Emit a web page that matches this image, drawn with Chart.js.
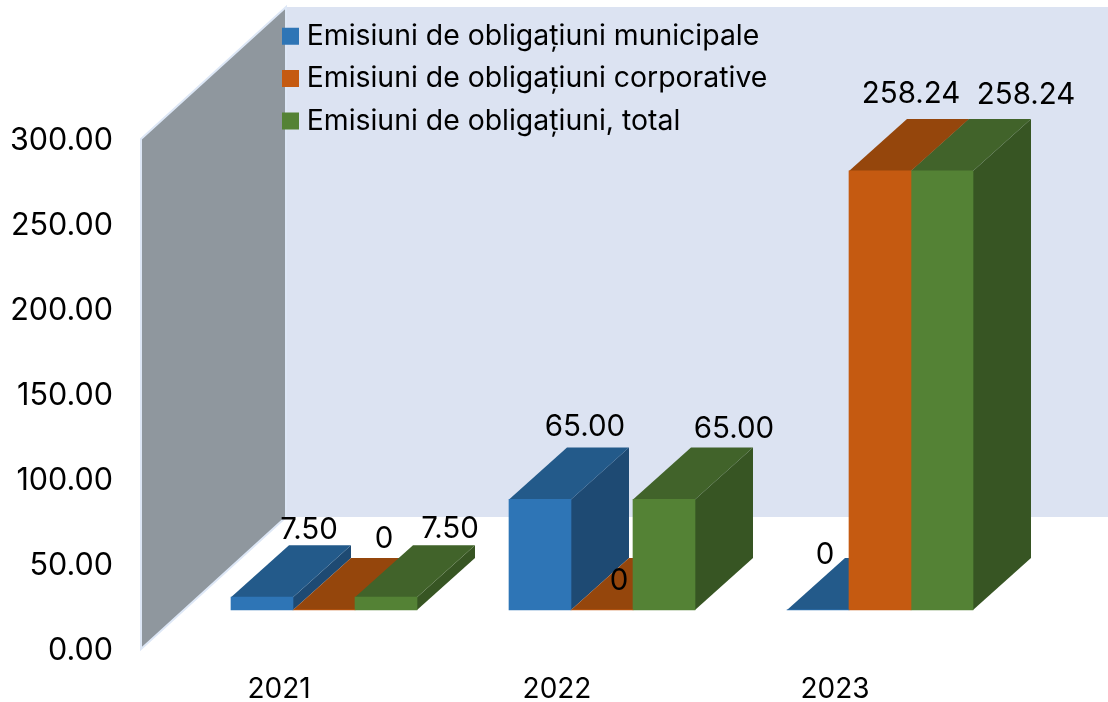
<!DOCTYPE html>
<html>
<head>
<meta charset="utf-8">
<style>html,body{margin:0;padding:0;background:#fff}canvas{display:block}</style>
<script src="https://cdn.jsdelivr.net/npm/chart.js@4/dist/chart.umd.min.js"></script>
</head>
<body>
<canvas id="c" width="1108" height="702"></canvas>
<script>
const categories = ['2021', '2022', '2023'];
const municipal = [7.5, 65, 0];
const corporate = [0, 0, 258.24];
const total = [7.5, 65, 258.24];
const seriesNames = ['Emisiuni de obligațiuni municipale', 'Emisiuni de obligațiuni corporative', 'Emisiuni de obligațiuni, total'];
const axisTicks = [0, 50, 100, 150, 200, 250, 300];

const frontColors = ['#2e75b6', '#c55a11', '#548235'];
const topColors = ['#235a8a', '#95460c', '#41632a'];
const sideColors = ['#1e4a73', '#95460c', '#375523'];

const FONT = 'Inter, sans-serif';
const DEPTH_X = 58, DEPTH_Y = -52;
const WALL_X = 141, WALL_DX = 145, WALL_DY = -132;
// label nudges relative to the centre of each bar's top face [series][category]
const labelNudge = [
  [[18, -41], [16, -46], [-22, -29]],
  [[31, -45], [-12, -3], [2, -51]],
  [[35, -42], [41, -44], [55, -50]]
];
const fmt = v => v === 0 ? '0' : v.toFixed(2);

function poly(ctx, pts, fill) {
  ctx.beginPath();
  pts.forEach((p, i) => i ? ctx.lineTo(p[0], p[1]) : ctx.moveTo(p[0], p[1]));
  ctx.closePath();
  ctx.fillStyle = fill;
  ctx.fill();
}

const scene = {
  id: 'scene',
  beforeDraw(chart) {
    const ctx = chart.ctx, y = chart.scales.y;
    const t = y.getPixelForValue(300), b = y.getPixelForValue(0);
    const lg = chart.legend, w = lg.width, h = lg.height;
    lg.left = 274.5; lg.right = 274.5 + w; lg.top = 8; lg.bottom = 8 + h;
    ctx.save();
    poly(ctx, [[WALL_X + WALL_DX, t + WALL_DY], [chart.width, t + WALL_DY], [chart.width, b + WALL_DY], [WALL_X + WALL_DX, b + WALL_DY]], '#dce3f2');
    poly(ctx, [[WALL_X, t], [WALL_X + WALL_DX, t + WALL_DY], [WALL_X + WALL_DX, b + WALL_DY], [WALL_X, b]], '#8f979e');
    ctx.strokeStyle = '#dde7f6';
    ctx.lineWidth = 2;
    ctx.stroke();
    ctx.restore();
  },
  beforeDatasetsDraw(chart) {
    const ctx = chart.ctx;
    ctx.save();
    chart.data.datasets.forEach((ds, s) => {
      chart.getDatasetMeta(s).data.forEach(el => {
        const p = el.getProps(['x', 'y', 'base', 'width'], true);
        const l = p.x - p.width / 2, r = p.x + p.width / 2;
        poly(ctx, [[r, p.y], [r + DEPTH_X, p.y + DEPTH_Y], [r + DEPTH_X, p.base + DEPTH_Y], [r, p.base]], sideColors[s]);
        poly(ctx, [[l, p.y], [r, p.y], [r + DEPTH_X, p.y + DEPTH_Y], [l + DEPTH_X, p.y + DEPTH_Y]], topColors[s]);
      });
    });
    ctx.restore();
  },
  afterDatasetsDraw(chart) {
    const ctx = chart.ctx;
    ctx.save();
    ctx.font = '29.5px ' + FONT;
    ctx.fillStyle = '#000';
    ctx.textAlign = 'center';
    ctx.textBaseline = 'middle';
    chart.data.datasets.forEach((ds, s) => {
      chart.getDatasetMeta(s).data.forEach((el, i) => {
        const p = el.getProps(['x', 'y'], true);
        const n = labelNudge[s][i];
        ctx.fillText(fmt(ds.data[i]), p.x + DEPTH_X / 2 + n[0], p.y + DEPTH_Y / 2 + n[1]);
      });
    });
    ctx.restore();
  }
};

new Chart(document.getElementById('c'), {
  type: 'bar',
  plugins: [scene],
  data: {
    labels: categories,
    datasets: [municipal, corporate, total].map((d, i) => ({
      label: seriesNames[i],
      data: d,
      backgroundColor: frontColors[i],
      borderWidth: 0,
      barThickness: 62,
      yAxisID: 'yBars'
    }))
  },
  options: {
    responsive: false,
    animation: false,
    devicePixelRatio: 1,
    layout: { padding: { left: 0, right: 89, top: 139, bottom: 0 } },
    plugins: {
      tooltip: { enabled: false },
      title: { display: false },
      legend: {
        display: true,
        position: 'chartArea',
        align: 'start',
        onClick: null,
        labels: {
          boxWidth: 4,
          boxHeight: 4,
          padding: 14,
          color: '#000',
          font: { family: FONT, size: 28.4 },
          generateLabels(chart) {
            return chart.data.datasets.map((d, i) => ({
              text: d.label, fillStyle: d.backgroundColor, strokeStyle: d.backgroundColor,
              lineWidth: 13, datasetIndex: i, hidden: false, fontColor: '#000'
            }));
          }
        }
      }
    },
    scales: {
      x: {
        type: 'category',
        afterFit(a) { a.height = 53; },
        grid: { display: false, drawTicks: false },
        border: { display: false },
        ticks: {
          padding: 24, labelOffset: -45, maxRotation: 0, color: '#000',
          font: { family: FONT, size: 28 }
        }
      },
      y: {
        type: 'linear',
        position: 'left',
        min: 0,
        max: 300,
        afterFit(a) { a.width = 185; a.paddingTop = 0; a.paddingBottom = 0; },
        afterBuildTicks(a) { a.ticks = axisTicks.map(value => ({ value })); },
        grid: { display: false, drawTicks: false },
        border: { display: false },
        ticks: {
          padding: 72, labelOffset: 2, color: '#000',
          font: { family: FONT, size: 30.5 },
          callback: v => v.toFixed(2)
        }
      },
      yBars: {
        type: 'linear',
        display: false,
        min: -23,
        max: 277
      }
    }
  }
});
</script>
</body>
</html>
